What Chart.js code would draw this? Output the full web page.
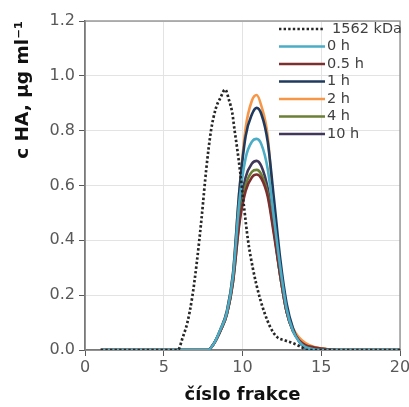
<!DOCTYPE html>
<html>
<head>
<meta charset="utf-8">
<script src="https://cdn.jsdelivr.net/npm/chart.js@4.4.1/dist/chart.umd.min.js"></script>
<style>
  html, body { margin: 0; background: #fff; }
  #wrap { width: 409px; height: 407px; position: relative; }
</style>
</head>
<body>
<div id="wrap"><canvas id="chart"></canvas></div>
<script>
// fraction numbers shared by the time series
const fractions = [1, 2, 3, 4, 5, 6, 7, 7.8, 8.2, 8.6, 9.0, 9.4, 9.8, 10.2, 10.6, 10.9, 11.2, 11.6, 12.0, 12.4, 12.8, 13.2, 13.6, 14.0, 14.5, 15.0, 15.5, 16, 17, 18, 19, 20];

const ha0h   = [0, 0, 0, 0, 0, 0, 0, 0, 0.025, 0.075, 0.135, 0.27, 0.54, 0.70, 0.76, 0.77, 0.75, 0.66, 0.48, 0.30, 0.15, 0.07, 0.03, 0.01, 0.003, 0, 0, 0, 0, 0, 0, 0];
const ha05h  = [0, 0, 0, 0, 0, 0, 0, 0, 0.025, 0.07, 0.13, 0.25, 0.46, 0.58, 0.63, 0.64, 0.625, 0.56, 0.42, 0.27, 0.14, 0.07, 0.035, 0.018, 0.01, 0.005, 0.002, 0, 0, 0, 0, 0];
const ha1h   = [0, 0, 0, 0, 0, 0, 0, 0, 0.025, 0.075, 0.14, 0.28, 0.58, 0.78, 0.86, 0.883, 0.86, 0.76, 0.55, 0.33, 0.17, 0.08, 0.03, 0.008, 0, 0, 0, 0, 0, 0, 0, 0];
const ha2h   = [0, 0, 0, 0, 0, 0, 0, 0, 0.025, 0.075, 0.14, 0.28, 0.58, 0.81, 0.91, 0.93, 0.89, 0.78, 0.50, 0.28, 0.15, 0.08, 0.045, 0.025, 0.012, 0.006, 0.003, 0, 0, 0, 0, 0];
const ha4h   = [0, 0, 0, 0, 0, 0, 0, 0, 0.025, 0.07, 0.13, 0.25, 0.47, 0.60, 0.65, 0.657, 0.64, 0.57, 0.43, 0.27, 0.14, 0.07, 0.035, 0.018, 0.01, 0.005, 0.002, 0, 0, 0, 0, 0];
const ha10h  = [0, 0, 0, 0, 0, 0, 0, 0, 0.025, 0.07, 0.13, 0.26, 0.50, 0.63, 0.68, 0.69, 0.67, 0.59, 0.44, 0.27, 0.14, 0.07, 0.035, 0.018, 0.01, 0.005, 0.002, 0, 0, 0, 0, 0];

// 1562 kDa standard (dotted)
const stdFractions = [1, 2, 3, 4, 5, 5.9, 6.2, 6.5, 6.8, 7.1, 7.4, 7.7, 8.0, 8.3, 8.6, 8.9, 9.15, 9.35, 9.5, 9.65, 9.84, 10.1, 10.35, 10.65, 11.1, 11.75, 12.2, 12.7, 13.2, 13.7, 14.1, 15, 20];
const std1562 =      [0, 0, 0, 0, 0, 0, 0.045, 0.10, 0.19, 0.32, 0.48, 0.66, 0.80, 0.88, 0.92, 0.95, 0.91, 0.865, 0.80, 0.74, 0.655, 0.52, 0.40, 0.30, 0.19, 0.085, 0.047, 0.035, 0.025, 0.012, 0, 0, 0];

const seriesLabels = ['1562 kDa', '0 h', '0.5 h', '1 h', '2 h', '4 h', '10 h'];
const xTicks = [0, 5, 10, 15, 20];

function pts(xs, ys) {
  return xs.map((x, i) => ({ x: x, y: ys[i] }));
}

const frame = {
  id: 'frame',
  beforeDatasetsDraw(chart) {
    const a = chart.chartArea;
    const ctx = chart.ctx;
    ctx.save();
    ctx.strokeStyle = '#8c8c8c';
    ctx.lineWidth = 1.3;
    ctx.strokeRect(a.left, a.top, a.right - a.left, a.bottom - a.top);
    ctx.restore();
  }
};

const legendBox = {
  id: 'legendBox',
  afterDatasetsDraw(chart) {
    const ctx = chart.ctx;
    const right = chart.chartArea.right;
    chart.data.datasets.forEach((ds, i) => {
      const y = 29 + i * 17.5;
      ctx.save();
      ctx.strokeStyle = ds.borderColor;
      ctx.lineWidth = ds.borderWidth;
      ctx.setLineDash(ds.borderDash || []);
      ctx.beginPath();
      ctx.moveTo(right - 121, y);
      ctx.lineTo(right - 75, y);
      ctx.stroke();
      ctx.fillStyle = '#404040';
      ctx.font = '14.5px "DejaVu Sans"';
      ctx.textBaseline = 'middle';
      ctx.fillText(ds.label, right - 73 + (i === 0 ? 5 : 0), y);
      ctx.restore();
    });
  }
};

function solid(label, data, color) {
  return {
    label: label,
    data: pts(fractions, data),
    borderColor: color,
    borderWidth: 2.6,
    pointRadius: 0,
    cubicInterpolationMode: 'monotone',
    fill: false
  };
}

new Chart(document.getElementById('chart'), {
  type: 'line',
  data: {
    datasets: [
      {
        label: seriesLabels[0],
        data: pts(stdFractions, std1562),
        borderColor: '#262626',
        borderWidth: 2.7,
        borderDash: [2.4, 2.2],
        pointRadius: 0,
        cubicInterpolationMode: 'monotone',
        fill: false
      },
      solid(seriesLabels[1], ha0h, '#4bacc6'),
      solid(seriesLabels[2], ha05h, '#7b2f2f'),
      solid(seriesLabels[3], ha1h, '#1f3a5f'),
      solid(seriesLabels[4], ha2h, '#f79646'),
      solid(seriesLabels[5], ha4h, '#6b7f35'),
      solid(seriesLabels[6], ha10h, '#40375a')
    ]
  },
  options: {
    responsive: true,
    maintainAspectRatio: false,
    animation: false,
    layout: { padding: { top: 21, right: 9, left: 0, bottom: 0 } },
    plugins: {
      legend: { display: false },
      tooltip: { enabled: false }
    },
    scales: {
      x: {
        type: 'linear',
        min: 0,
        max: 20,
        afterBuildTicks: (s) => { s.ticks = xTicks.map(v => ({ value: v })); },
        ticks: { color: '#595959', font: { family: 'DejaVu Sans', size: 16 }, padding: 2, maxRotation: 0 },
        grid: { color: '#e3e3e3', tickColor: '#595959', tickLength: 6 },
        border: { color: '#595959', width: 1.5 },
        title: {
          display: true,
          text: 'číslo frakce',
          color: '#111',
          font: { family: 'DejaVu Sans', size: 18, weight: 'bold' },
          padding: { top: 0, bottom: 1 }
        },
        afterFit: (s) => { s.height = 57; s.paddingLeft = 0; s.paddingRight = 0; }
      },
      y: {
        min: 0,
        max: 1.2,
        ticks: {
          stepSize: 0.2,
          color: '#595959',
          font: { family: 'DejaVu Sans', size: 16 },
          padding: 4,
          callback: (v) => v.toFixed(1)
        },
        grid: { color: '#e3e3e3', tickColor: '#595959', tickLength: 6 },
        border: { color: '#595959', width: 1.5 },
        title: {
          display: true,
          text: 'c HA, µg ml⁻¹',
          align: 'end',
          color: '#111',
          font: { family: 'DejaVu Sans', size: 18.5, weight: 'bold' },
          padding: { top: 12, bottom: 0 }
        },
        afterFit: (s) => { s.width = 85; s.paddingTop = 0; s.paddingBottom = 0; }
      }
    }
  },
  plugins: [frame, legendBox]
});
</script>
</body>
</html>
